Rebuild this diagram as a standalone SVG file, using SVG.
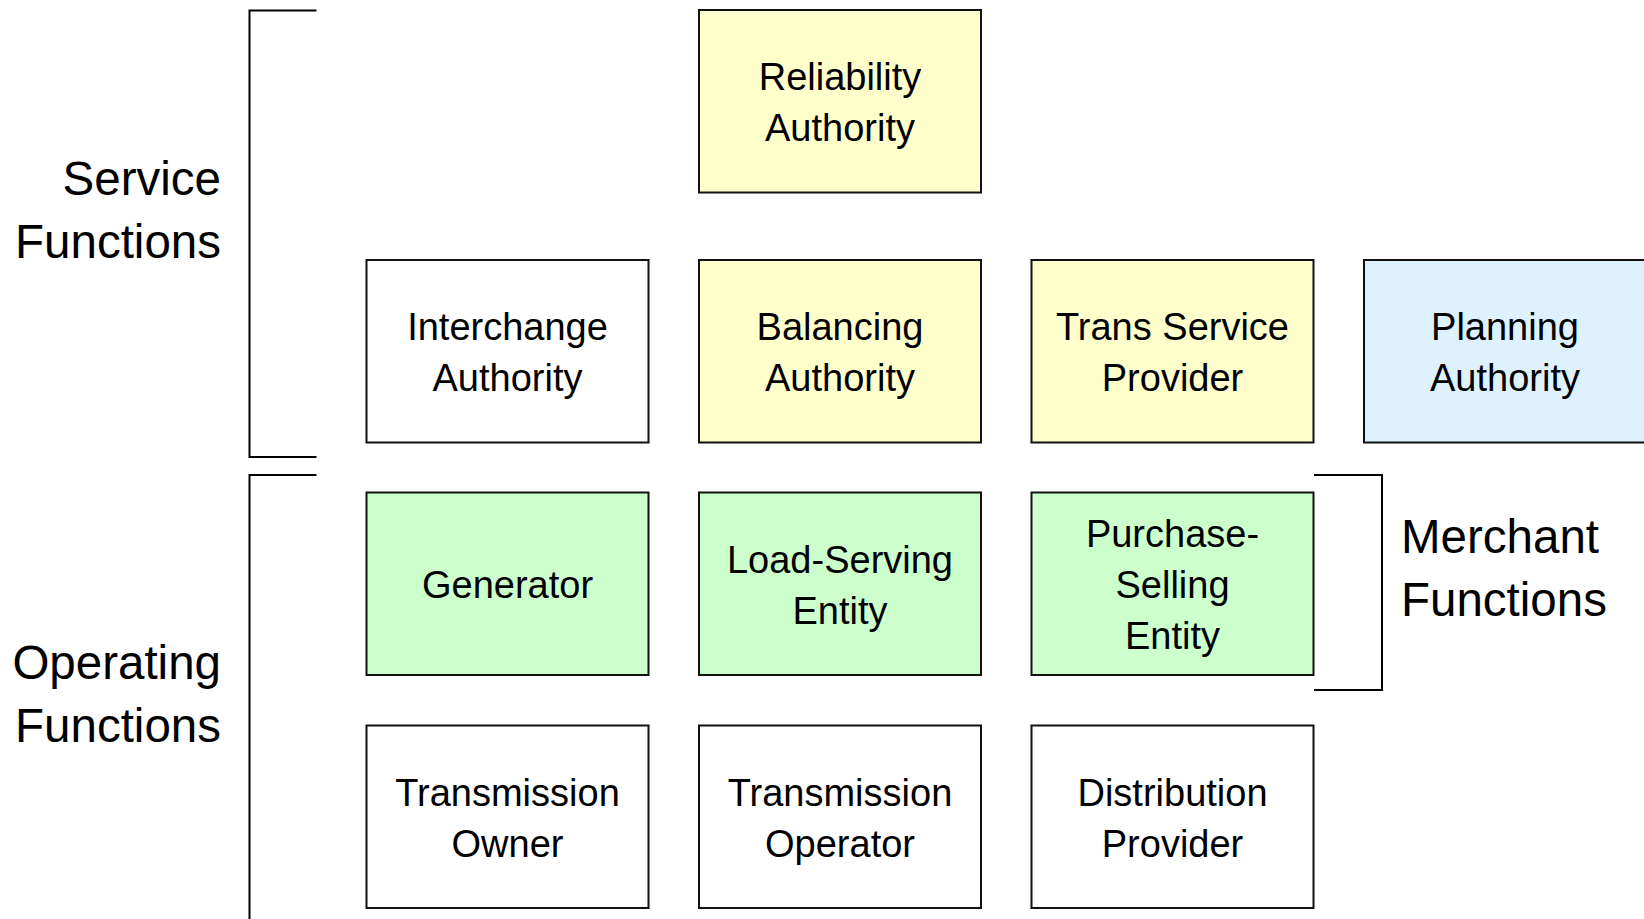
<svg xmlns="http://www.w3.org/2000/svg" width="1644" height="919" viewBox="0 0 1644 919">
<style>
.box{stroke:#111;stroke-width:2}
.w{fill:#fff}.y{fill:#ffffcc}.g{fill:#ccffcc}.b{fill:#ddf1ff}
text{font-family:"Liberation Sans",Arial,sans-serif;fill:#000}
.t{font-size:38px;text-anchor:middle}
.lab{font-size:47.5px}
.br{fill:none;stroke:#000;stroke-width:2}
</style>
<rect width="1644" height="919" fill="#fff"/>
<g id="brackets">
<path class="br" d="M316.5,10.5H249.5V457H316.5"/>
<path class="br" d="M316.5,475H249.5V919"/>
<path class="br" d="M1314,475H1382V690H1314"/>
</g>
<g id="labels">
<text class="lab" text-anchor="end" x="221" y="195">Service</text>
<text class="lab" text-anchor="end" x="221" y="258">Functions</text>
<text class="lab" text-anchor="end" x="221" y="679">Operating</text>
<text class="lab" text-anchor="end" x="221" y="742">Functions</text>
<text class="lab" x="1401" y="553">Merchant</text>
<text class="lab" x="1401" y="616">Functions</text>
</g>
<g id="connectors"></g>
<g id="reliability-authority"><rect class="box y" x="699" y="10" width="282" height="182.5"/><text class="t" x="840" y="90">Reliability</text><text class="t" x="840" y="141">Authority</text></g>
<g id="interchange-authority"><rect class="box w" x="366.5" y="260" width="282" height="182.5"/><text class="t" x="507.5" y="340">Interchange</text><text class="t" x="507.5" y="391">Authority</text></g>
<g id="balancing-authority"><rect class="box y" x="699" y="260" width="282" height="182.5"/><text class="t" x="840" y="340">Balancing</text><text class="t" x="840" y="391">Authority</text></g>
<g id="trans-service-provider"><rect class="box y" x="1031.5" y="260" width="282" height="182.5"/><text class="t" x="1172.5" y="340">Trans Service</text><text class="t" x="1172.5" y="391">Provider</text></g>
<g id="planning-authority"><rect class="box b" x="1364" y="260" width="300" height="182.5"/><text class="t" x="1505" y="340">Planning</text><text class="t" x="1505" y="391">Authority</text></g>
<g id="generator"><rect class="box g" x="366.5" y="492.5" width="282" height="182.5"/><text class="t" x="507.5" y="598">Generator</text></g>
<g id="load-serving-entity"><rect class="box g" x="699" y="492.5" width="282" height="182.5"/><text class="t" x="840" y="572.5">Load-Serving</text><text class="t" x="840" y="623.5">Entity</text></g>
<g id="purchase-selling-entity"><rect class="box g" x="1031.5" y="492.5" width="282" height="182.5"/><text class="t" x="1172.5" y="547">Purchase-</text><text class="t" x="1172.5" y="598">Selling</text><text class="t" x="1172.5" y="649">Entity</text></g>
<g id="transmission-owner"><rect class="box w" x="366.5" y="725.5" width="282" height="182.5"/><text class="t" x="507.5" y="805.5">Transmission</text><text class="t" x="507.5" y="856.5">Owner</text></g>
<g id="transmission-operator"><rect class="box w" x="699" y="725.5" width="282" height="182.5"/><text class="t" x="840" y="805.5">Transmission</text><text class="t" x="840" y="856.5">Operator</text></g>
<g id="distribution-provider"><rect class="box w" x="1031.5" y="725.5" width="282" height="182.5"/><text class="t" x="1172.5" y="805.5">Distribution</text><text class="t" x="1172.5" y="856.5">Provider</text></g>
</svg>
